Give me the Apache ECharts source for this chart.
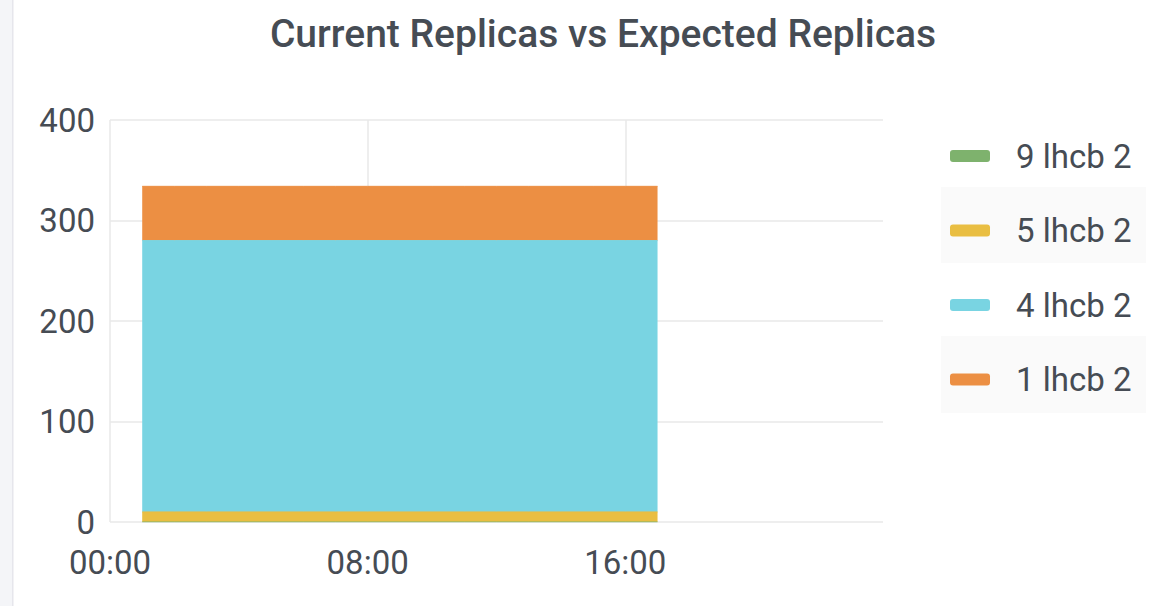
<!DOCTYPE html>
<html><head><meta charset="utf-8">
<script src="https://cdn.jsdelivr.net/npm/echarts@6/dist/echarts.min.js"></script>
<style>html,body{margin:0;padding:0;background:#fff}#c{width:1165px;height:606px}</style>
</head><body><div id="c"></div>
<script>
const titleText = 'Current Replicas vs Expected Replicas';
const seriesNames = ['9 lhcb 2', '5 lhcb 2', '4 lhcb 2', '1 lhcb 2'];
const seriesColors = ['#7EB26D', '#E9BE42', '#79D4E2', '#EC8F43'];
// hourly time categories across the day
const times = ['00:00', '01:00', '02:00', '03:00', '04:00', '05:00', '06:00', '07:00', '08:00',
  '09:00', '10:00', '11:00', '12:00', '13:00', '14:00', '15:00', '16:00', '17:00', '18:00',
  '19:00', '20:00', '21:00', '22:00', '23:00', '24:00'];
const N = null;
const s9lhcb2 = [N, 0, 0, 0, 0, 0, 0, 0, 0, 0, 0, 0, 0, 0, 0, 0, 0, 0, N, N, N, N, N, N, N];
const s5lhcb2 = [N, 10, 10, 10, 10, 10, 10, 10, 10, 10, 10, 10, 10, 10, 10, 10, 10, 10, N, N, N, N, N, N, N];
const s4lhcb2 = [N, 270, 270, 270, 270, 270, 270, 270, 270, 270, 270, 270, 270, 270, 270, 270, 270, 270, N, N, N, N, N, N, N];
const s1lhcb2 = [N, 54, 54, 54, 54, 54, 54, 54, 54, 54, 54, 54, 54, 54, 54, 54, 54, 54, N, N, N, N, N, N, N];
const xTickLabels = ['00:00', '08:00', '16:00'];
const yTicks = [0, 100, 200, 300, 400];

const allValues = [s9lhcb2, s5lhcb2, s4lhcb2, s1lhcb2];
const chart = echarts.init(document.getElementById('c'), null, {renderer: 'svg'});
const txt = '#464c54';
const font = 'Roboto, "Noto Sans", sans-serif';
const showTick = (idx, val) => xTickLabels.indexOf(times[idx]) >= 0;
chart.setOption({
  animation: false,
  textStyle: {fontFamily: font},
  graphic: [
    {type: 'rect', shape: {x: 0, y: 0, width: 12, height: 606}, style: {fill: '#f4f5f8'}, silent: true},
    {type: 'rect', shape: {x: 12, y: 0, width: 1.5, height: 606}, style: {fill: '#e6e6ec'}, silent: true},
    {type: 'rect', shape: {x: 941, y: 187, width: 205, height: 76}, style: {fill: '#fafafa'}, silent: true, z: -1},
    {type: 'rect', shape: {x: 941, y: 336, width: 205, height: 77}, style: {fill: '#fafafa'}, silent: true, z: -1}
  ],
  title: {
    text: titleText, left: 598, top: 9, textAlign: 'center',
    textStyle: {fontFamily: font, fontSize: 39, fontWeight: 500, color: txt}
  },
  legend: {
    orient: 'vertical', left: 945, top: 134,
    itemWidth: 40, itemHeight: 12, itemGap: 40.5,
    icon: 'roundRect',
    data: seriesNames,
    textStyle: {fontFamily: font, fontSize: 33, color: txt, lineHeight: 34, padding: [0, 0, 0, 21]}
  },
  grid: {left: 110, right: 282, top: 120, bottom: 84, containLabel: false},
  xAxis: {
    type: 'category', data: times, boundaryGap: false,
    axisLine: {show: false}, axisTick: {show: false},
    axisLabel: {fontFamily: font, fontSize: 33, color: txt, margin: 24, interval: showTick},
    splitLine: {show: true, interval: showTick, lineStyle: {color: '#e8e8e8', width: 1.5}}
  },
  yAxis: {
    type: 'value', min: yTicks[0], max: yTicks[yTicks.length - 1], interval: 100,
    axisLine: {show: false}, axisTick: {show: false},
    axisLabel: {fontFamily: font, fontSize: 33, color: txt, margin: 15},
    splitLine: {show: true, lineStyle: {color: '#e8e8e8', width: 1.5}}
  },
  series: seriesNames.map((n, i) => ({
    name: n, type: 'line', stack: 'total', symbol: 'none', connectNulls: false,
    color: seriesColors[i],
    lineStyle: {width: 1, color: seriesColors[i]},
    areaStyle: {color: seriesColors[i], opacity: 1},
    data: allValues[i].map(v => v === null ? '-' : v)
  }))
});
</script></body></html>
